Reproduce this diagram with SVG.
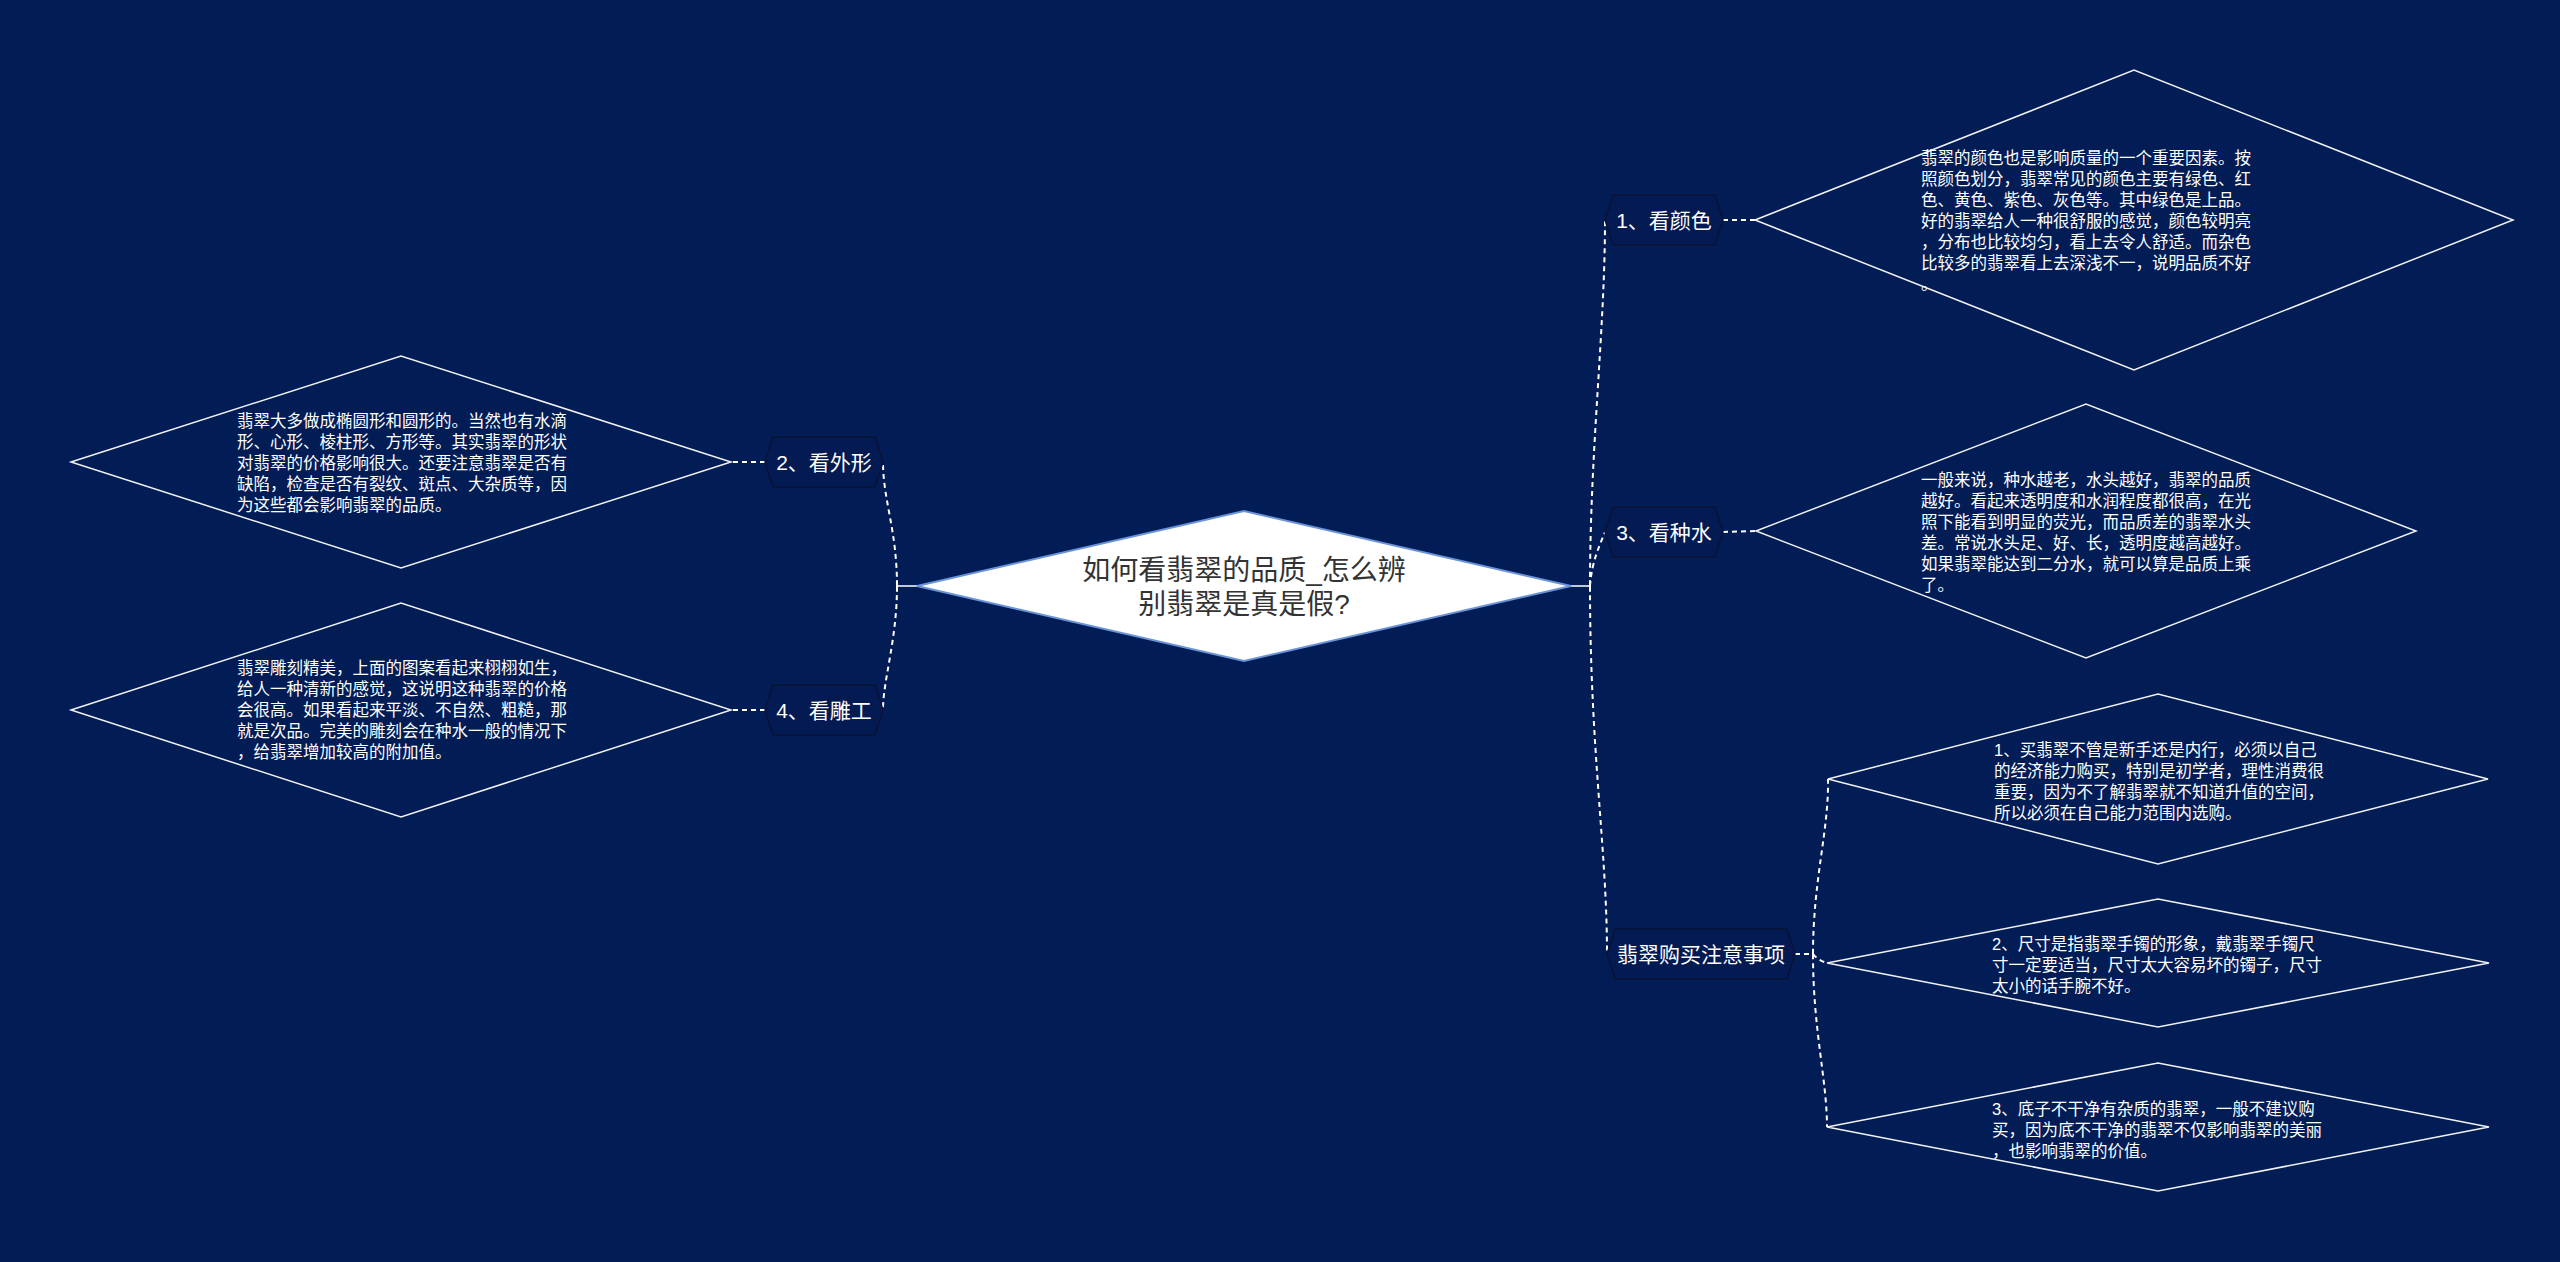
<svg xmlns="http://www.w3.org/2000/svg" width="2560" height="1262" viewBox="0 0 2560 1262">
<style>
text{font-family:"Liberation Sans","Noto Sans CJK SC",sans-serif}
.bg{fill:#021c55}
.detail{fill:none;stroke:#f2f2f2;stroke-width:1.5}
.dt{fill:#ffffff;font-size:16.5px}
.hex{fill:#031a52;stroke:#0a1336;stroke-width:1.5}
.ht{fill:#ffffff;font-size:21px;text-anchor:middle}
.root{fill:#ffffff;stroke:#6a93d8;stroke-width:2}
.rt{fill:#333333;font-size:28px;text-anchor:middle}
.dash{fill:none;stroke:#ffffff;stroke-width:2;stroke-dasharray:5 4}
.solid{fill:none;stroke:#ffffff;stroke-width:1.5}
</style>
<rect class="bg" x="0" y="0" width="2560" height="1262"/>

<g id="connectors">
  <path class="solid" d="M897,586 L917,586 M897,580 L897,592"/>
  <path class="solid" d="M1571,586 L1590,586 M1590,580 L1590,592"/>
  <path class="dash" d="M897,586 C897,530 883,500 883,462"/>
  <path class="dash" d="M897,586 C897,640 883,680 883,710"/>
  <path class="dash" d="M765,462 L731,462"/>
  <path class="dash" d="M765,710 L731,710"/>
  <path class="dash" d="M1590,586 C1590,450 1605,330 1605,220"/>
  <path class="dash" d="M1590,586 C1592,560 1600,545 1605,532"/>
  <path class="dash" d="M1590,586 C1590,750 1607,850 1607,954"/>
  <path class="dash" d="M1723,220 L1755,220"/>
  <path class="dash" d="M1723,532 L1756,531"/>
  <path class="dash" d="M1795,954 L1813,954"/>
  <path class="solid" d="M1813,949 L1813,959"/>
  <path class="dash" d="M1813,954 C1813,880 1829,830 1828,779"/>
  <path class="dash" d="M1813,954 C1816,958 1822,962 1827,963"/>
  <path class="dash" d="M1813,954 C1813,1030 1827,1080 1827,1127"/>
</g>

<g id="root">
  <polygon class="root" points="917,586 1244,511 1571,586 1244,661"/>
  <text class="rt" x="1244" y="580">如何看翡翠的品质_怎么辨</text>
  <text class="rt" x="1244" y="614">别翡翠是真是假?</text>
</g>

<g id="n1">
  <polygon class="hex" points="1605,220 1613,195 1715,195 1723,220 1715,245 1613,245"/>
  <text class="ht" x="1664" y="228">1、看颜色</text>
</g>
<g id="n1-detail">
  <polygon class="detail" points="1755,220 2134,70 2513,220 2134,370"/>
  <text class="dt" x="1921" y="164">翡翠的颜色也是影响质量的一个重要因素。按</text>
  <text class="dt" x="1921" y="185">照颜色划分，翡翠常见的颜色主要有绿色、红</text>
  <text class="dt" x="1921" y="206">色、黄色、紫色、灰色等。其中绿色是上品。</text>
  <text class="dt" x="1921" y="227">好的翡翠给人一种很舒服的感觉，颜色较明亮</text>
  <text class="dt" x="1921" y="248">，分布也比较均匀，看上去令人舒适。而杂色</text>
  <text class="dt" x="1921" y="269">比较多的翡翠看上去深浅不一，说明品质不好</text>
  <text class="dt" x="1921" y="290">。</text>
</g>

<g id="n3">
  <polygon class="hex" points="1605,532 1613,507 1715,507 1723,532 1715,557 1613,557"/>
  <text class="ht" x="1664" y="540">3、看种水</text>
</g>
<g id="n3-detail">
  <polygon class="detail" points="1756,531 2086,404 2416,531 2086,658"/>
  <text class="dt" x="1921" y="486">一般来说，种水越老，水头越好，翡翠的品质</text>
  <text class="dt" x="1921" y="507">越好。看起来透明度和水润程度都很高，在光</text>
  <text class="dt" x="1921" y="528">照下能看到明显的荧光，而品质差的翡翠水头</text>
  <text class="dt" x="1921" y="549">差。常说水头足、好、长，透明度越高越好。</text>
  <text class="dt" x="1921" y="570">如果翡翠能达到二分水，就可以算是品质上乘</text>
  <text class="dt" x="1921" y="591">了。</text>
</g>

<g id="n5">
  <polygon class="hex" points="1607,954 1615,929 1787,929 1795,954 1787,979 1615,979"/>
  <text class="ht" x="1701" y="962">翡翠购买注意事项</text>
</g>
<g id="n5-a">
  <polygon class="detail" points="1828,779 2158,694 2488,779 2158,864"/>
  <text class="dt" x="1994" y="756">1、买翡翠不管是新手还是内行，必须以自己</text>
  <text class="dt" x="1994" y="777">的经济能力购买，特别是初学者，理性消费很</text>
  <text class="dt" x="1994" y="798">重要，因为不了解翡翠就不知道升值的空间，</text>
  <text class="dt" x="1994" y="819">所以必须在自己能力范围内选购。</text>
</g>
<g id="n5-b">
  <polygon class="detail" points="1827,963 2158,899 2489,963 2158,1027"/>
  <text class="dt" x="1992" y="950">2、尺寸是指翡翠手镯的形象，戴翡翠手镯尺</text>
  <text class="dt" x="1992" y="971">寸一定要适当，尺寸太大容易坏的镯子，尺寸</text>
  <text class="dt" x="1992" y="992">太小的话手腕不好。</text>
</g>
<g id="n5-c">
  <polygon class="detail" points="1827,1127 2158,1063 2489,1127 2158,1191"/>
  <text class="dt" x="1992" y="1115">3、底子不干净有杂质的翡翠，一般不建议购</text>
  <text class="dt" x="1992" y="1136">买，因为底不干净的翡翠不仅影响翡翠的美丽</text>
  <text class="dt" x="1992" y="1157">，也影响翡翠的价值。</text>
</g>

<g id="n2">
  <polygon class="hex" points="765,462 773,437 875,437 883,462 875,487 773,487"/>
  <text class="ht" x="824" y="470">2、看外形</text>
</g>
<g id="n2-detail">
  <polygon class="detail" points="71,462 401,356 731,462 401,568"/>
  <text class="dt" x="237" y="427">翡翠大多做成椭圆形和圆形的。当然也有水滴</text>
  <text class="dt" x="237" y="448">形、心形、棱柱形、方形等。其实翡翠的形状</text>
  <text class="dt" x="237" y="469">对翡翠的价格影响很大。还要注意翡翠是否有</text>
  <text class="dt" x="237" y="490">缺陷，检查是否有裂纹、斑点、大杂质等，因</text>
  <text class="dt" x="237" y="511">为这些都会影响翡翠的品质。</text>
</g>

<g id="n4">
  <polygon class="hex" points="765,710 773,685 875,685 883,710 875,735 773,735"/>
  <text class="ht" x="824" y="718">4、看雕工</text>
</g>
<g id="n4-detail">
  <polygon class="detail" points="71,710 401,603 731,710 401,817"/>
  <text class="dt" x="237" y="674">翡翠雕刻精美，上面的图案看起来栩栩如生，</text>
  <text class="dt" x="237" y="695">给人一种清新的感觉，这说明这种翡翠的价格</text>
  <text class="dt" x="237" y="716">会很高。如果看起来平淡、不自然、粗糙，那</text>
  <text class="dt" x="237" y="737">就是次品。完美的雕刻会在种水一般的情况下</text>
  <text class="dt" x="237" y="758">，给翡翠增加较高的附加值。</text>
</g>
</svg>
